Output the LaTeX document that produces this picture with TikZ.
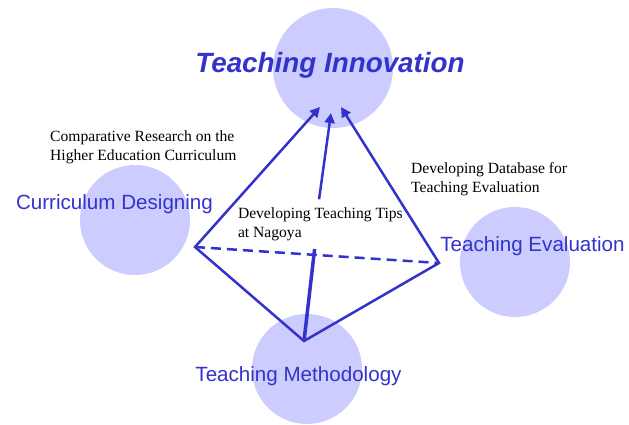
\documentclass[tikz,border=0pt]{standalone}
\usepackage{fontspec}
\setmainfont{Liberation Serif}
\setsansfont{Liberation Sans}
\usetikzlibrary{arrows.meta}
\definecolor{blue60}{HTML}{3333CC}
\definecolor{blue20}{HTML}{CCCCFF}

\begin{document}
\begin{tikzpicture}[x=1pt, y=-1pt,
  topic/.style   = {circle, fill=blue20, inner sep=0pt, minimum size=110pt},
  title/.style   = {font=\sffamily\fontsize{20.6}{24}\selectfont, text=blue60, inner sep=0pt, anchor=base},
  maintitle/.style = {title, font=\sffamily\bfseries\itshape\fontsize{27.8}{32}\selectfont},
  note/.style    = {font=\fontsize{15.6}{19.5}\selectfont, align=left, inner sep=0pt, anchor=north west},
  edge/.style    = {draw=blue60, line width=2.5pt, line join=miter},
  >={Triangle[length=10pt,width=10pt]}]

\useasboundingbox (0,0) rectangle (629,424);

% the four circles
\node[topic, minimum size=120pt] (inno) at (333,68) {};
\node[topic] (curr) at (135,220) {};
\node[topic] (eval) at (515,262) {};
\node[topic] (meth) at (307,369) {};

% corners of the pyramid and the arrow ends in the top circle
\coordinate (cd) at (195,247);
\coordinate (te) at (439,263);
\coordinate (tm) at (304,341);
\coordinate (a1) at (320,107);
\coordinate (a2) at (331,113);
\coordinate (a3) at (341,107);

% notes
\node[note] (comp) at (50,130.3) {Comparative Research on the\\Higher Education Curriculum};
\node[note] (db) at (411,162.3) {Developing Database for\\Teaching Evaluation};
\node[note, outer xsep=0pt, outer ysep=8pt] (tips) at (238,199.3) {Developing Teaching Tips\\at Nagoya};

%----------------------------------- pyramid edges and arrows -----------------------------------
\draw[edge, <->] (a1) -- (cd) -- (tm) -- (te) -- (a3);
\draw[edge, dash pattern=on 10pt off 6pt] (cd) -- (te);
\draw[edge, line width=3.5pt] (tm) -- (tips.257);
\draw[edge, ->] (tips.93) -- (a2);

% labels of the circles
\node[maintitle] (innotxt) at (330,72) {Teaching Innovation};
\node[title] (currtxt) at (114.5,209) {Curriculum Designing};
\node[title] (evaltxt) at (532.5,251) {Teaching Evaluation};
\node[title] (methtxt) at (298.5,381) {Teaching Methodology};

\end{tikzpicture}
\end{document}
